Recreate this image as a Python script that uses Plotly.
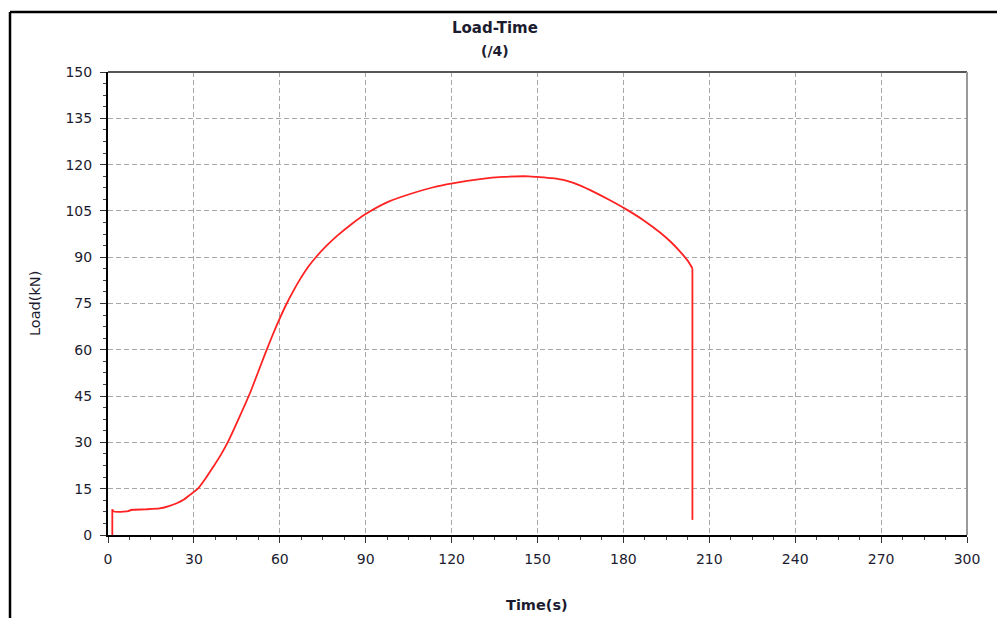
import plotly.graph_objects as go

# initial jump, main curve, final drop
start_t = [1.5, 1.5]
start_l = [0, 8.3]
time_s = [1.5, 2.0, 7.0, 8.0, 13, 18, 21, 24, 26.5, 28.6, 31.5, 34, 36.7, 39.3, 41.8, 45.5, 49.6, 52.3,
          55.0, 57.5, 60, 62.2, 64.5, 67.1, 70, 72.9, 76, 80, 85, 90, 98, 106.6, 113, 120.3, 130,
          138, 147, 150, 155, 160, 165, 170, 175, 181, 187, 192.8, 196.5, 199.8, 202.5, 204.1]
load_kn = [8.3, 7.6, 7.7, 8.1, 8.3, 8.6, 9.3, 10.3, 11.5, 13, 15.1, 18.2, 22, 25.8, 30, 37.4, 46, 52.5,
           59, 64.8, 70.2, 74.6, 78.7, 82.9, 87, 90.3, 93.4, 96.9, 100.7, 104, 108, 110.8, 112.5, 113.9, 115.3,
           116.0, 116.2, 116.0, 115.6, 114.8, 113.2, 111.0, 108.6, 105.5, 102.0, 98.0, 95.0, 91.8, 88.8, 86.4]
end_t = [204.1, 204.1]
end_l = [86.4, 4.9]

x_ticks = [0, 30, 60, 90, 120, 150, 180, 210, 240, 270, 300]
y_ticks = [0, 15, 30, 45, 60, 75, 90, 105, 120, 135, 150]

W, H = 997, 618
L, R, T, B = 108, 30, 72, 83
pw, ph = W - L - R, H - T - B

def px(xp):
    return (xp - L) / pw

def py(yp):
    return (H - B - yp) / ph

font_fam = "DejaVu Sans, Verdana, sans-serif"
txt = "#1c1c30"
red = "#ff2222"

fig = go.Figure()
fig.add_trace(go.Scatter(x=start_t, y=start_l, mode="lines",
                         line=dict(color=red, width=1.8), showlegend=False))
fig.add_trace(go.Scatter(x=time_s, y=load_kn, mode="lines",
                         line=dict(color=red, width=1.8, shape="spline", smoothing=0.6), showlegend=False))
fig.add_trace(go.Scatter(x=end_t, y=end_l, mode="lines",
                         line=dict(color=red, width=1.8), showlegend=False))

axis_common = dict(
    showgrid=True, gridcolor="#a8a8a8", griddash="5px,3px", gridwidth=1,
    showline=True, linecolor="#000000", linewidth=2, mirror=False,
    ticks="outside", ticklen=6, tickwidth=1, tickcolor="#333333",
    tickfont=dict(family=font_fam, size=14, color=txt),
    zeroline=False, fixedrange=True,
)

fig.update_xaxes(range=[0, 300], tickvals=x_ticks, ticktext=[str(v) for v in x_ticks],
                 minor=dict(dtick=7.5, tick0=0, ticks="outside", ticklen=3, tickcolor="#444444", showgrid=False),
                 ticklabelstandoff=4, **axis_common)
fig.update_yaxes(range=[0, 150], tickvals=y_ticks, ticktext=[str(v) for v in y_ticks],
                 minor=dict(dtick=3.75, tick0=0, ticks="outside", ticklen=3, tickcolor="#444444", showgrid=False),
                 ticklabelstandoff=5, **axis_common)

shapes = [
    dict(type="line", xref="paper", yref="paper", x0=px(10), x1=px(10), y0=py(12), y1=py(630),
         line=dict(color="#000000", width=2.5)),
    dict(type="line", xref="paper", yref="paper", x0=px(10), x1=px(1010), y0=py(12), y1=py(12),
         line=dict(color="#000000", width=2.5)),
    dict(type="line", xref="paper", yref="paper", x0=0, x1=1, y0=1, y1=1,
         line=dict(color="#555555", width=2)),
    dict(type="line", xref="paper", yref="paper", x0=1, x1=1, y0=0, y1=1,
         line=dict(color="#999999", width=2)),
]

annotations = [
    dict(text="<b>Load-Time</b>", xref="paper", yref="paper", x=px(495), y=py(28),
         showarrow=False, font=dict(family=font_fam, size=15, color=txt), xanchor="center", yanchor="middle"),
    dict(text="<b>(/4)</b>", xref="paper", yref="paper", x=px(495), y=py(51),
         showarrow=False, font=dict(family=font_fam, size=14, color=txt), xanchor="center", yanchor="middle"),
    dict(text="<b>Time(s)</b>", xref="paper", yref="paper", x=px(537), y=py(605),
         showarrow=False, font=dict(family=font_fam, size=14.5, color=txt), xanchor="center", yanchor="middle"),
    dict(text="Load(kN)", xref="paper", yref="paper", x=px(35), y=py(304), textangle=-90,
         showarrow=False, font=dict(family=font_fam, size=14.5, color=txt), xanchor="center", yanchor="middle"),
]

fig.update_layout(
    width=W, height=H,
    margin=dict(l=L, r=R, t=T, b=B),
    paper_bgcolor="#ffffff", plot_bgcolor="#ffffff",
    shapes=shapes, annotations=annotations,
    showlegend=False,
)

fig.write_html("out.html", config=dict(displayModeBar=False))
